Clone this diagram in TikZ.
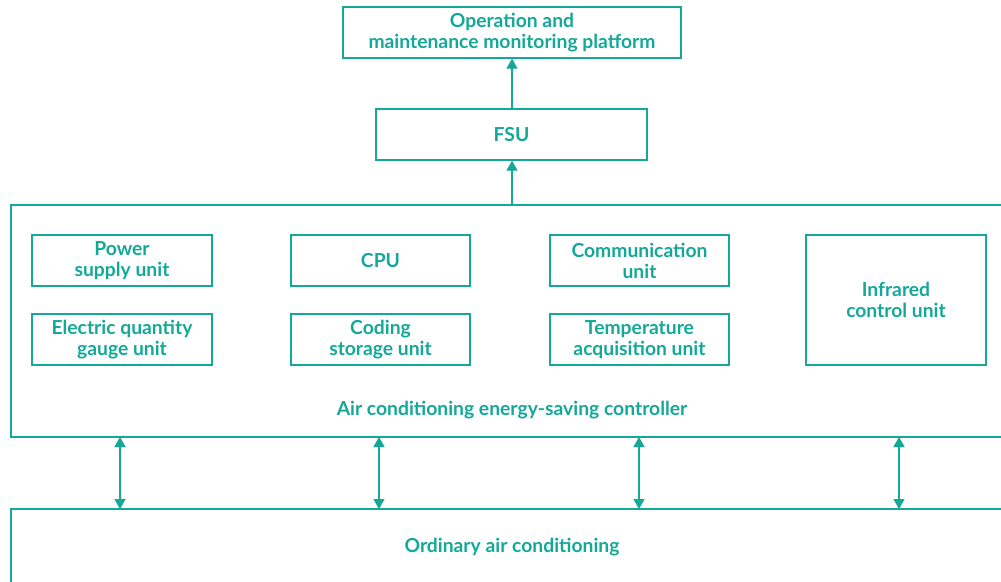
\documentclass[tikz,border=0pt]{standalone}
\usepackage{fontspec}
\setmainfont{Lato}[UprightFont=* Bold]
\usetikzlibrary{arrows.meta}
\definecolor{teal1}{RGB}{20,168,152}
\begin{document}
\begin{tikzpicture}[x=1pt,y=-1pt,
  every node/.style={font=\fontsize{19.3}{21}\selectfont, text=teal1, align=center, inner sep=0pt},
  box/.style={draw=teal1, line width=1.3pt, rectangle},
  conn/.style={draw=teal1, line width=1.3pt, -{Triangle[width=11pt,length=10pt]}},
  dconn/.style={draw=teal1, line width=1.3pt, {Triangle[width=11pt,length=10pt]}-{Triangle[width=11pt,length=10pt]}}]
\useasboundingbox (0,0) rectangle (1001,581);
\clip (0,0) rectangle (1001,581);
\node[box, minimum width=338pt, minimum height=51pt] (omp) at (512,32.5) {\raisebox{-1.5pt}{\shortstack{Operation and\\[1pt]maintenance monitoring platform}}};
\node[box, minimum width=271pt, minimum height=51pt] (fsu) at (511.5,134.5) {FSU};
\node[box, minimum width=1004pt, minimum height=232pt] (ctrl) at (513,321) {};
\node (ctrllbl) at (512,410.5) {Air conditioning energy-saving controller};
\node[box, minimum width=180pt, minimum height=51pt] (psu) at (122,260.5) {Power\\supply unit};
\node[box, minimum width=180pt, minimum height=51pt] (eq) at (122,339.5) {Electric quantity\\gauge unit};
\node[box, minimum width=179pt, minimum height=51pt] (cpu) at (380.5,260.5) {CPU};
\node[box, minimum width=179pt, minimum height=51pt] (cod) at (380.5,339.5) {Coding\\storage unit};
\node[box, minimum width=179pt, minimum height=51pt] (com) at (639.5,260.5) {Communication\\unit};
\node[box, minimum width=179pt, minimum height=51pt] (tmp) at (639.5,339.5) {Temperature\\acquisition unit};
\node[box, minimum width=180pt, minimum height=130pt] (ir) at (896,300) {Infrared\\control unit};
\node[box, minimum width=1004pt, minimum height=74pt] (oac) at (513,546) {};
\node (oaclbl) at (512,547.5) {Ordinary air conditioning};
\draw[conn] (fsu.north -| omp.south) -- (omp.south);
\draw[conn] (ctrl.north -| omp.south) -- (fsu.south -| omp.south);
\foreach \x/\n in {120/a,379/b,639/c,899/d}{
  \coordinate (t\n) at (\x,437);
  \coordinate (b\n) at (\x,509);
  \draw[dconn] (t\n) -- (b\n);
}
\end{tikzpicture}
\end{document}
